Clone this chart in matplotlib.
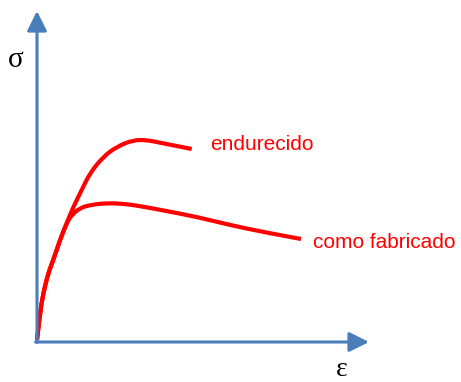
import matplotlib
matplotlib.use('Agg')
import matplotlib.pyplot as plt
from matplotlib.path import Path
from matplotlib.patches import PathPatch

# stress-strain sketch, arbitrary units
strain_shared = [0, 3, 6.3, 11.3, 16.3, 23, 29.7]
stress_shared = [1, 28, 48, 68, 81, 101, 118]

strain_fab = [34.7, 43, 53, 69.7, 89.7, 109.7, 133, 160, 193, 226, 264]
stress_fab = [126, 133, 136, 138, 137, 133.7, 129.3, 124, 116, 109, 102]

strain_end = [36.3, 44.7, 53, 66.3, 79.7, 96.3, 109.7, 123, 139.7, 154.7]
stress_end = [134, 151, 168, 184.3, 194.3, 201, 201, 198.3, 195, 192]

labels = ['endurecido', 'como fabricado']
label_pos = [(173, 196), (276, 98)]

axis_blue = '#4a7ebb'
red = '#ff0000'


def smooth_path(xs, ys):
    # quadratic segments: points act as controls, midpoints lie on the curve
    pts = list(zip(xs, ys))
    verts = [pts[0]]
    codes = [Path.MOVETO]
    for i in range(1, len(pts) - 1):
        if i < len(pts) - 2:
            end = ((pts[i][0] + pts[i + 1][0]) / 2, (pts[i][1] + pts[i + 1][1]) / 2)
        else:
            end = pts[i + 1]
        verts += [pts[i], end]
        codes += [Path.CURVE3, Path.CURVE3]
    return Path(verts, codes)


fig = plt.figure(figsize=(4.61, 3.82), dpi=100)
ax = fig.add_axes([0, 0, 1, 1])
ax.set_xlim(-37, 424)
ax.set_ylim(-41, 341)
ax.axis('off')

# axes drawn as arrows
arrow = dict(arrowstyle='-|>,head_length=0.8,head_width=0.4', color=axis_blue,
             lw=2.2, shrinkA=0, shrinkB=0, mutation_scale=15)
ax.annotate('', xy=(0, 330), xytext=(0, -1.5), arrowprops=arrow)
ax.annotate('', xy=(332, -1), xytext=(-1.5, -1), arrowprops=arrow)

for xs, ys in [(strain_shared + strain_fab, stress_shared + stress_fab),
               (strain_shared + strain_end, stress_shared + stress_end)]:
    ax.add_patch(PathPatch(smooth_path(xs, ys), fill=False, edgecolor=red, lw=3,
                           capstyle='butt', joinstyle='round'))

for lab, (x, y) in zip(labels, label_pos):
    ax.text(x, y, lab, color=red, fontsize=15, family='Liberation Sans',
            ha='left', va='center')

ax.text(-21.3, 281, 'σ', fontsize=21, family='Liberation Serif', ha='center', va='center')
ax.text(305, -29, 'ε', fontsize=20, family='Liberation Serif', ha='center', va='center')

fig.savefig('out.png', dpi=100)
